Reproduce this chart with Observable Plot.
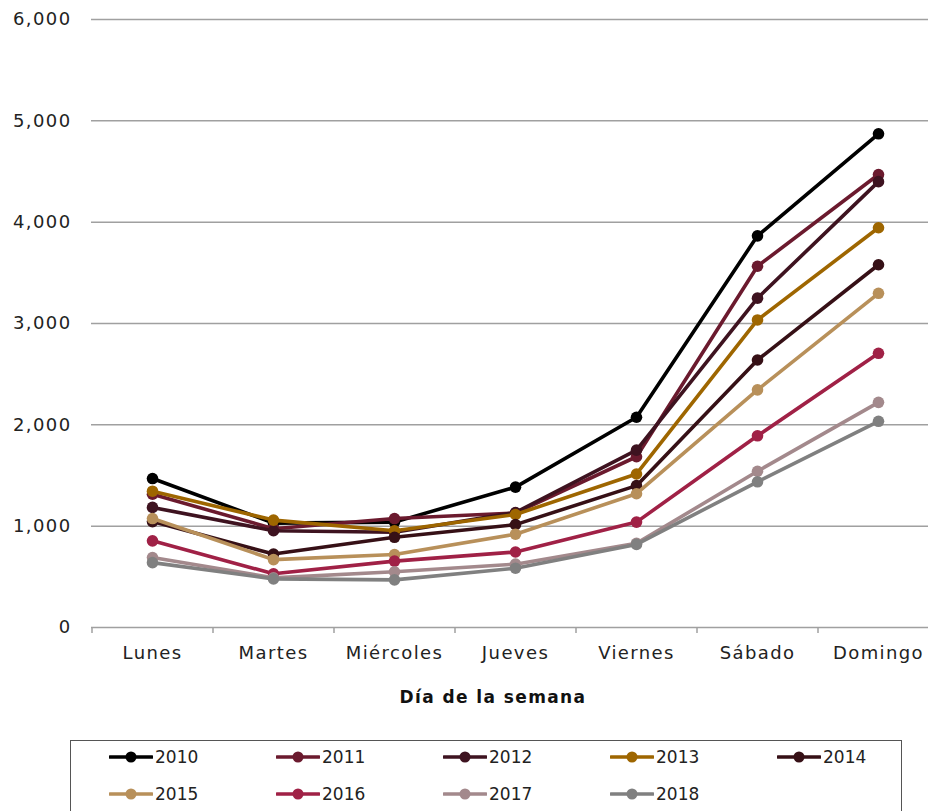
<!DOCTYPE html>
<html><head><meta charset="utf-8">
<script src="https://cdn.jsdelivr.net/npm/d3@7"></script>
<script src="https://cdn.jsdelivr.net/npm/@observablehq/plot@0.6"></script>
<style>
body{margin:0;background:#fff;font-family:"DejaVu Sans",sans-serif;color:#222;}
#chart svg text{letter-spacing:1.4px;}
#legend{position:absolute;left:70px;top:740px;width:832px;height:80px;border:1.5px solid #555;box-sizing:border-box;}
.item{position:absolute;display:flex;align-items:center;font-size:17px;}
.item svg{display:block;margin-right:2px;}
</style></head><body>
<div id="chart"></div>
<div id="legend"></div>
<script>
const days = ["Lunes","Martes","Miércoles","Jueves","Viernes","Sábado","Domingo"];
const years = ["2010","2011","2012","2013","2014","2015","2016","2017","2018"];
const colors = ["#000000","#6b1a2e","#3e1320","#9e6600","#361016","#b8905a","#a02146","#a3898c","#808080"];
const v2010 = [1470, 1030, 1040, 1385, 2075, 3865, 4872];
const v2011 = [1315, 975, 1075, 1130, 1685, 3565, 4470];
const v2012 = [1185, 955, 940, 1135, 1750, 3250, 4400];
const v2013 = [1345, 1060, 955, 1115, 1515, 3035, 3945];
const v2014 = [1045, 725, 890, 1015, 1400, 2640, 3580];
const v2015 = [1075, 670, 720, 920, 1320, 2345, 3298];
const v2016 = [855, 530, 655, 745, 1040, 1892, 2706];
const v2017 = [690, 490, 550, 625, 830, 1542, 2222];
const v2018 = [640, 480, 470, 585, 820, 1438, 2035];
const yTicks = [0, 1000, 2000, 3000, 4000, 5000, 6000];
const axisTitle = "Día de la semana";

const series = [v2010, v2011, v2012, v2013, v2014, v2015, v2016, v2017, v2018];
const rows = years.flatMap((yr, i) => days.map((d, j) => ({year: yr, day: d, value: series[i][j]})));

const W = 928, H = 730, ML = 91, MB = 103, MT = 19;
const xRange = [ML, 938];
const step = (xRange[1] - xRange[0]) / days.length;
const gridColor = "#a0a0a0";

const seriesMarks = years.flatMap(yr => {
  const d = rows.filter(r => r.year === yr);
  return [
    Plot.line(d, {x: "day", y: "value", stroke: "year", strokeWidth: 3.6, strokeLinejoin: "round", strokeLinecap: "round"}),
    Plot.dot(d, {x: "day", y: "value", fill: "year", r: 5.8})
  ];
});

const chart = Plot.plot({
  width: W, height: H,
  marginLeft: ML, marginRight: 0, marginTop: MT, marginBottom: MB,
  style: {fontFamily: "DejaVu Sans, sans-serif", fontSize: "18px", color: "#222", background: "#fff"},
  x: {type: "point", domain: days, range: xRange, padding: 0.5},
  y: {domain: [0, 6000]},
  color: {domain: years, range: colors},
  marks: [
    Plot.ruleY(yTicks.filter(t => t > 0), {stroke: gridColor, strokeWidth: 1.5}),
    Plot.ruleY([0], {stroke: gridColor, strokeWidth: 1.5}),
    Plot.ruleX(days, {x: d => d, dx: -step / 2, y1: 0, y2: -60, stroke: gridColor, strokeWidth: 1.5}),
    Plot.axisY({ticks: yTicks, tickSize: 0, tickPadding: 20, tickFormat: d3.format(","), label: null, fontSize: 18, fill: "#222"}),
    Plot.axisX({tickSize: 0, tickPadding: 19, label: null, fontSize: 18, fill: "#222"}),
    Plot.text([axisTitle], {frameAnchor: "bottom", dx: -17, dy: 75, fontWeight: "bold", fontSize: 17, fill: "#111"}),
    ...seriesMarks
  ]
});
document.getElementById("chart").appendChild(chart);

const legend = document.getElementById("legend");
years.forEach((yr, i) => {
  const col = i % 5, row = Math.floor(i / 5);
  const el = document.createElement("div");
  el.className = "item";
  el.style.left = (38 + col * 167) + "px";
  el.style.top = (6 + row * 37) + "px";
  el.innerHTML = `<svg width="44" height="14"><line x1="1" y1="7" x2="43" y2="7" stroke="${colors[i]}" stroke-width="3.6" stroke-linecap="round"/><circle cx="22" cy="7" r="5.5" fill="${colors[i]}"/></svg><span>${yr}</span>`;
  legend.appendChild(el);
});
</script></body></html>
